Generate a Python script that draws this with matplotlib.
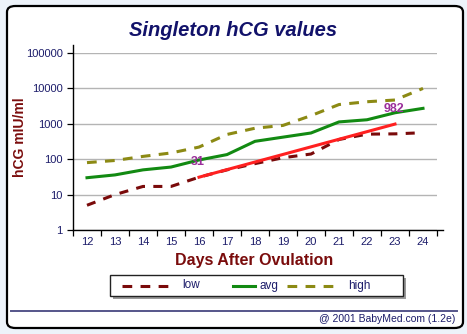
import matplotlib
matplotlib.use("Agg")
import matplotlib.pyplot as plt
from matplotlib.patches import FancyBboxPatch, Rectangle
from matplotlib.lines import Line2D

plt.rcParams["font.family"] = ["Liberation Sans", "DejaVu Sans"]
plt.rcParams["lines.scale_dashes"] = False

# hCG reference ranges by day after ovulation (mIU/ml)
days = [12, 13, 14, 15, 16, 17, 18, 19, 20, 21, 22, 23, 24]
low = [5, 10, 17, 17, 31, 50, 75, 110, 140, 360, 510, 520, 560]
avg = [30, 36, 50, 60, 95, 135, 320, 420, 550, 1130, 1300, 2050, 2730]
high = [80, 92, 120, 150, 220, 500, 750, 900, 1700, 3500, 4200, 4700, 10000]

# measured values
user_days = [16, 23]
user_vals = [31, 982]

ytick_vals = [1, 10, 100, 1000, 10000, 100000]
ytick_labels = ["1", "10", "100", "1000", "10000", "100000"]

W, H = 467, 334
NAVY = "#1c1c6a"
TITLE = "#12126a"
DARKRED = "#7a0c0c"
C_LOW = "#7a0a0a"
C_AVG = "#128a12"
C_HIGH = "#8c8a14"
C_USER = "#ff2020"
C_LABEL = "#9b2f9b"

fig = plt.figure(figsize=(W / 100, H / 100), dpi=100)
fig.patch.set_facecolor("#edf3fa")


def fx(px):
    return px / W


def fy(py):
    return 1 - py / H


# white panel with rounded black border
panel = FancyBboxPatch((fx(7), fy(328)), fx(463) - fx(7), fy(6) - fy(328),
                       boxstyle="round,pad=0,rounding_size=0.018",
                       transform=fig.transFigure, facecolor="white",
                       edgecolor="black", linewidth=1.6, zorder=-5)
fig.patches.append(panel)

fig.text(fx(233), fy(30), "Singleton hCG values", ha="center", va="center",
         fontsize=14.5, fontweight="bold", fontstyle="italic", color=TITLE)

ax = fig.add_axes([fx(73), fy(230), fx(437) - fx(73), fy(53) - fy(230)])
ax.set_zorder(2)
ax.set_facecolor("none")

x_pos = list(range(len(days)))
ax.plot(x_pos, low, color=C_LOW, lw=2.2, ls=(0, (6.5, 6.0)),
        dash_capstyle="butt", zorder=3)
ax.plot(x_pos, avg, color=C_AVG, lw=2.2, zorder=3)
ax.plot(x_pos, high, color=C_HIGH, lw=2.2, ls=(0, (7.0, 6.0)), dash_capstyle="butt",
        zorder=3)

user_x = [days.index(d) for d in user_days]
ax.plot(user_x, user_vals, color=C_USER, lw=2.2, zorder=4)
for ux, uv in zip(user_x, user_vals):
    ax.annotate(str(uv), (ux, uv), xytext=(-1, 11), textcoords="offset points",
                ha="center", va="center", fontsize=9, fontweight="bold",
                color=C_LABEL, zorder=5)

ax.set_yscale("log")
ax.set_ylim(1, 100000)
ax.set_xlim(-0.5, len(days) - 0.5)

ax.set_yticks(ytick_vals)
ax.set_yticklabels(ytick_labels)
ax.yaxis.set_minor_locator(matplotlib.ticker.NullLocator())
ax.tick_params(axis="y", which="major", length=4, width=0.9, pad=3.5,
               labelsize=8, labelcolor=NAVY, color="black")

# category boundaries carry the tick marks, centers carry the labels
ax.set_xticks([i - 0.5 for i in range(len(days) + 1)])
ax.set_xticklabels([])
ax.set_xticks(x_pos, minor=True)
ax.set_xticklabels([str(d) for d in days], minor=True)
ax.tick_params(axis="x", which="major", length=4, width=0.9, color="black")
ax.tick_params(axis="x", which="minor", length=0, pad=5, labelsize=8,
               labelcolor=NAVY)

ax.yaxis.grid(True, which="major", color="#b4b4b4", lw=1.0)
ax.set_axisbelow(True)
for s in ax.spines.values():
    s.set_visible(False)
ax.add_line(Line2D([0, 0], [0, 1.045], transform=ax.transAxes, color="black",
                   lw=1.0, clip_on=False))
ax.add_line(Line2D([0, 1.017], [0, 0], transform=ax.transAxes, color="black",
                   lw=1.0, clip_on=False))

fig.text(fx(20), fy(137), "hCG mIU/ml", rotation=90, ha="center", va="center",
         fontsize=10, fontweight="bold", color=DARKRED)
fig.text(fx(254), fy(260), "Days After Ovulation", ha="center", va="center",
         fontsize=11.5, fontweight="bold", color=DARKRED)

# legend box with drop shadow
fig.patches.append(Rectangle((fx(113), fy(299)), fx(403) - fx(110), fy(275) - fy(296),
                             transform=fig.transFigure, facecolor="#9a9a9a",
                             edgecolor="none", zorder=1))
fig.patches.append(Rectangle((fx(110), fy(296)), fx(403) - fx(110), fy(275) - fy(296),
                             transform=fig.transFigure, facecolor="white",
                             edgecolor="#222222", lw=1.0, zorder=2))
ly = fy(285.5)
fig.add_artist(Line2D([fx(122), fx(170)], [ly, ly], color=C_LOW, lw=2.2,
                      ls=(0, (7.0, 6.0)), transform=fig.transFigure, zorder=3))
fig.text(fx(182), ly, "low", ha="left", va="center", fontsize=8.5, color=NAVY)
fig.add_artist(Line2D([fx(233), fx(255)], [ly, ly], color=C_AVG, lw=2.2,
                      transform=fig.transFigure, zorder=3))
fig.text(fx(259), ly, "avg", ha="left", va="center", fontsize=8.5, color=NAVY)
fig.add_artist(Line2D([fx(287), fx(335)], [ly, ly], color=C_HIGH, lw=2.2,
                      ls=(0, (7.0, 6.0)), transform=fig.transFigure, zorder=3))
fig.text(fx(348), ly, "high", ha="left", va="center", fontsize=8.5, color=NAVY)

fig.add_artist(Line2D([fx(11), fx(457)], [fy(311), fy(311)], color="#55558a",
                      lw=1.4, transform=fig.transFigure))
fig.text(fx(455), fy(319.5), "@ 2001 BabyMed.com (1.2e)", ha="right", va="center",
         fontsize=7.5, color=NAVY)

fig.savefig("out.png", dpi=100, facecolor=fig.get_facecolor())
